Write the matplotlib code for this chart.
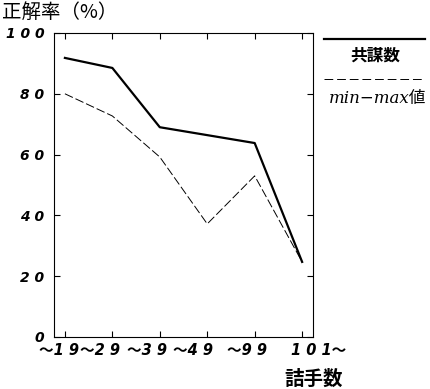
import matplotlib
matplotlib.use("Agg")
import matplotlib.pyplot as plt

plt.rcParams['font.family'] = ['DejaVu Sans', 'Noto Sans CJK JP']

# data
groups = ["～1 9", "～2 9", "～3 9", "～4 9", "～9 9", "1 0 1～"]
kyobo = [91.8, 88.5, 69.0, 66.4, 63.8, 24.7]
minmax = [80.0, 72.7, 59.2, 37.2, 53.0, 24.7]
yticks = [0, 20, 40, 60, 80, 100]
ylabels = ["0", "2 0", "4 0", "6 0", "8 0", "1 0 0"]
# label centres (data units), the labels run on as one string under the axis
label_x = [-0.13, 0.74, 1.73, 2.70, 3.84, 5.34]

xs = list(range(len(groups)))

fig = plt.figure(figsize=(4.31, 3.89), dpi=100)
ax = fig.add_axes([0.1253, 0.1337, 0.601, 0.7815])

ax.plot(xs, kyobo, color='black', lw=1.6)
ax.plot(xs, minmax, color='black', lw=0.7, dashes=(9, 3))

ax.set_xlim(-0.23, 5.23)
ax.set_ylim(0, 100)
ax.set_xticks(xs)
ax.set_xticklabels([])
ax.set_yticks(yticks)
ax.set_yticklabels(ylabels, fontsize=10, fontweight='bold', fontstyle='italic')
ax.tick_params(direction='in', length=4, width=0.8, top=True, right=True, pad=7)
for s in ax.spines.values():
    s.set_linewidth(0.8)

for x, lab in zip(label_x, groups):
    ax.text(x, -0.045, lab, transform=ax.get_xaxis_transform(), ha='center', va='center',
            fontsize=10.5, fontweight='bold', fontstyle='italic')

fig.text(0.005, 0.968, "正解率（%）", fontsize=14, family=['Noto Sans CJK JP'], va='center', ha='left')
fig.text(0.66, 0.025, "詰手数", fontsize=14, family=['Noto Sans CJK JP'], fontweight='bold',
         va='center', ha='left')

# legend drawn by hand at the right side
fig.add_artist(plt.Line2D([324 / 431, 425 / 431], [1 - 39 / 389, 1 - 39 / 389], color='black', lw=1.6))
fig.text(375 / 431, 1 - 56 / 389, "共謀数", fontsize=12, family=['Noto Sans CJK JP'], fontweight='bold',
         ha='center', va='center')
fig.add_artist(plt.Line2D([324 / 431, 425 / 431], [1 - 79 / 389, 1 - 79 / 389], color='black', lw=0.7,
                          dashes=(9, 4)))
fig.text(378 / 431, 1 - 98 / 389, "min−max値", fontsize=12, family=['DejaVu Serif', 'Noto Sans CJK JP'],
         fontstyle='italic', ha='center', va='center')

fig.savefig("out.png", dpi=100)
